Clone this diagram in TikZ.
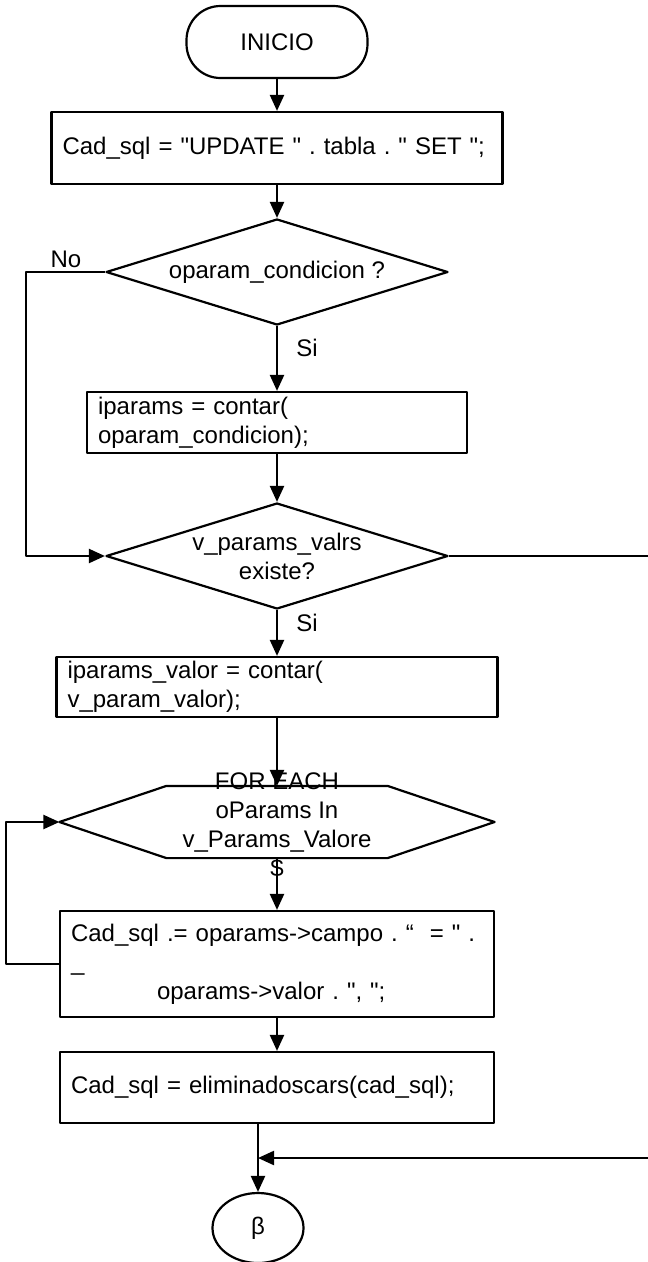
\documentclass[tikz,border=0pt]{standalone}
\usepackage{fontspec}
\setmainfont{Liberation Sans}[Ligatures=TeXOff]
\frenchspacing
\usepackage{tikz}
\usetikzlibrary{arrows.meta,shapes.geometric,positioning}
\tikzset{term/.style={draw,rounded corners=34pt,minimum width=181pt,minimum height=72pt,inner sep=0pt},
  box/.style={draw,inner xsep=11pt,inner ysep=0pt,align=left},
  dec/.style={draw,diamond,aspect=3.3,inner sep=0pt,align=center,minimum width=342pt,minimum height=106pt},
  conn/.style={draw,ellipse,minimum width=91pt,minimum height=70pt,inner sep=0pt},
  lbl/.style={inner sep=0pt}}

\begin{document}
\begin{tikzpicture}[x=1pt,y=-1pt,>={Triangle[length=16pt,width=14pt]},line width=2.2pt,line join=round,font=\fontsize{24}{29}\selectfont]
\clip (0,0) rectangle (648,1262);
% --- main column
\node[term] (start) at (277,42) {INICIO};
\node[box,text width=429pt,minimum height=72pt] (b1) at (277,148) {Cad\_sql = "UPDATE " . tabla . " SET ";};
\node[dec] (d1) at (277,272) {oparam\_condicion ?};
\node[box,text width=358pt,minimum height=61pt] (b2) at (277,422.5) {iparams = contar(\\oparam\_condicion);};
\node[dec] (d2) at (277,556) {v\_params\_valrs\\existe?};
\node[box,text width=419pt,minimum height=60pt] (b3) at (277,687) {iparams\_valor = contar(\\v\_param\_valor);};
% --- for each loop
\node[minimum width=433pt,minimum height=70pt,inner sep=0pt] (loop) at (277,822) {};
\draw (loop.west) -- ([xshift=107pt]loop.north west) -- ([xshift=-107pt]loop.north east) -- (loop.east) -- ([xshift=-107pt]loop.south east) -- ([xshift=107pt]loop.south west) -- cycle;
\node[align=center,inner sep=0pt] (looptxt) at (277,825) {FOR EACH\\oParams In\\v\_Params\_Valore\\\$};
\node[box,text width=412pt,minimum height=106pt] (b4) at (277,964) {Cad\_sql .= oparams->campo . “\ \ = " .\\\_\\\hspace*{86pt}oparams->valor . ", ";};
\node[box,text width=412pt,minimum height=71pt] (b5) at (277,1087.5) {Cad\_sql = eliminadoscars(cad\_sql);};
\node[conn] (end) at (258,1228) {β};
% --- labels
\node[lbl] (no) at (66,259) {No};
\node[lbl] (si1) at (307,348) {Si};
\node[lbl] (si2) at (307,623) {Si};
% --- connectors
\coordinate (lft) at (26,400);
\coordinate (rgt) at (665,1158);
\coordinate (mrg) at (258,1158);
\coordinate (bk) at (6,900);
\draw[->] (start.south) -- (b1.north);
\draw[->] (b1.south) -- (d1.north);
\draw[->] (d1.south) -- (b2.north);
\draw[->] (d1.west) -| (lft) |- (d2.west);
\draw[->] (b2.south) -- (d2.north);
\draw[->] (d2.south) -- (b3.north);
\draw[->] (d2.east) -| (rgt) -- (mrg);
\draw[->] (b3.south) -- (loop.north);
\draw[->] (loop.south) -- (b4.north);
\draw[->] (b4.west) -| (bk) |- (loop.west);
\draw[->] (b4.south) -- (b5.north);
\draw[->] (b5.south -| end.north) -- (end.north);
\end{tikzpicture}
\end{document}
